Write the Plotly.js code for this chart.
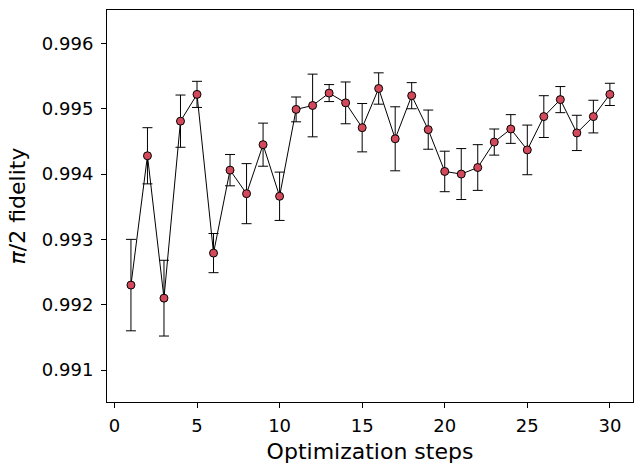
<!DOCTYPE html>
<html>
<head>
<meta charset="utf-8">
<script src="https://cdn.plot.ly/plotly-3.0.1.min.js"></script>
<style>html,body{margin:0;padding:0;background:#fff;}#chart{width:634px;height:464px;}</style>
</head>
<body>
<div id="chart"></div>
<script>
const steps = [1,2,3,4,5,6,7,8,9,10,11,12,13,14,15,16,17,18,19,20,21,22,23,24,25,26,27,28,29,30];
const fidelity = [0.99230, 0.99428, 0.99210, 0.99481, 0.99522, 0.99279, 0.99406, 0.99370, 0.99445, 0.99366,
                  0.99499, 0.99505, 0.99524, 0.99509, 0.99471, 0.99531, 0.99454, 0.99520, 0.99468, 0.99404,
                  0.99400, 0.99410, 0.99449, 0.99469, 0.99437, 0.99488, 0.99514, 0.99463, 0.99488, 0.99522];
const fidelityErr = [0.00070, 0.00043, 0.00058, 0.00040, 0.00020, 0.00030, 0.00024, 0.00046, 0.00033, 0.00037,
                     0.00019, 0.00048, 0.00013, 0.00032, 0.00037, 0.00024, 0.00049, 0.00020, 0.00030, 0.00031,
                     0.00039, 0.00035, 0.00020, 0.00022, 0.00038, 0.00032, 0.00020, 0.00027, 0.00025, 0.00017];
const xTicks = [0, 5, 10, 15, 20, 25, 30];
const yTicks = [0.991, 0.992, 0.993, 0.994, 0.995, 0.996];

const trace = {
  x: steps, y: fidelity, type: 'scatter', mode: 'lines+markers',
  line: {color: '#000000', width: 1},
  marker: {size: 8, color: '#d1495b', line: {color: '#000000', width: 1}},
  error_y: {type: 'data', array: fidelityErr, visible: true, color: '#000000', thickness: 1, width: 5},
  hoverinfo: 'skip'
};

const font = {family: 'DejaVu Sans, sans-serif', color: '#000000'};
const layout = {
  width: 634, height: 464,
  margin: {l: 107, r: 1, t: 10, b: 62, pad: 0},
  paper_bgcolor: '#ffffff', plot_bgcolor: '#ffffff',
  showlegend: false,
  font: font,
  xaxis: {
    range: [-0.45, 31.4], tickvals: xTicks, ticktext: xTicks.map(String),
    ticks: 'outside', ticklen: 5, tickwidth: 1, tickcolor: '#000',
    showline: true, linecolor: '#000', linewidth: 1, mirror: true,
    showgrid: false, zeroline: false, ticklabelstandoff: 2,
    tickfont: {family: 'DejaVu Sans, sans-serif', size: 18, color: '#000'},
    title: {text: 'Optimization steps', font: {family: 'DejaVu Sans, sans-serif', size: 22, color: '#000'}, standoff: 10}
  },
  yaxis: {
    range: [0.99051, 0.996512], tickvals: yTicks, ticktext: yTicks.map(v => v.toFixed(3)),
    ticks: 'outside', ticklen: 5, tickwidth: 1, tickcolor: '#000',
    showline: true, linecolor: '#000', linewidth: 1, mirror: true,
    showgrid: false, zeroline: false, ticklabelstandoff: 4,
    tickfont: {family: 'DejaVu Sans, sans-serif', size: 18, color: '#000'},
    title: {text: '<i>π</i>/2 fidelity', font: {family: 'DejaVu Sans, sans-serif', size: 22, color: '#000'}, standoff: 10}
  }
};

Plotly.newPlot('chart', [trace], layout, {staticPlot: true, displayModeBar: false});
</script>
</body>
</html>
